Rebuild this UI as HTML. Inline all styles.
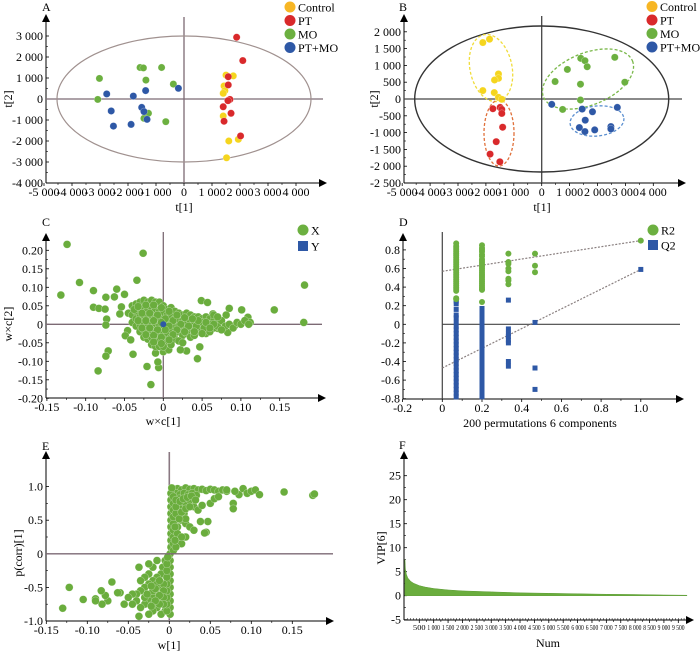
<!DOCTYPE html>
<html><head><meta charset="utf-8"><style>
html,body{margin:0;padding:0;background:#fff;}
svg{display:block;font-family:"Liberation Serif",serif;}
</style></head><body>
<svg id="fig" width="700" height="653" viewBox="0 0 700 653" xmlns="http://www.w3.org/2000/svg">
<defs>
<marker id="arr" markerWidth="8" markerHeight="8" refX="4" refY="4" orient="auto" markerUnits="userSpaceOnUse"><path d="M0,0 L8,4 L0,8 Z" fill="#000"/></marker>
</defs>
<g font-size="12">
<text x="42" y="11">A</text>
<text x="399" y="11">B</text>
<text x="42" y="226">C</text>
<text x="399" y="226">D</text>
<text x="42" y="450">E</text>
<text x="399" y="449">F</text>
</g>
<g font-size="12">
<text x="184" y="211" text-anchor="middle">t[1]</text>
<text transform="translate(12,99) rotate(-90)" text-anchor="middle">t[2]</text>
<text x="542" y="211" text-anchor="middle">t[1]</text>
<text transform="translate(378,99) rotate(-90)" text-anchor="middle">t[2]</text>
<text x="163" y="425" text-anchor="middle">w×c[1]</text>
<text transform="translate(12,324) rotate(-90)" text-anchor="middle">w×c[2]</text>
<text x="540" y="427" text-anchor="middle">200 permutations 6 components</text>
<text x="169" y="649" text-anchor="middle">w[1]</text>
<text transform="translate(22,553) rotate(-90)" text-anchor="middle">p(corr)[1]</text>
<text x="548" y="647" text-anchor="middle">Num</text>
<text transform="translate(385,548) rotate(-90)" text-anchor="middle">VIP[6]</text>
</g>
</svg>
<script>
// ---------- DATA ----------
const aControl = [[1500,1140],[1760,1100],[1430,620],[1460,400],[1400,270],[1400,-810],[1600,-2000],[1940,-1920],[1520,-2800]];
const aPT = [[1880,2940],[2100,1830],[1580,1060],[1580,670],[1640,-20],[1570,-80],[1400,-370],[1680,-680],[1430,-1060],[2020,-1760]];
const aMO = [[-3020,980],[-3080,-20],[-1570,1500],[-1450,1480],[-800,1500],[-1360,900],[-380,710],[-1270,-680],[-1430,-920],[-650,-1080]];
const aPTMO = [[-2760,240],[-1810,140],[-1370,400],[-200,510],[-2600,-570],[-1510,-400],[-1430,-600],[-1320,-970],[-2520,-1290],[-1890,-1210]];
const bControl = [[-2110,1680],[-1870,1780],[-1550,745],[-1550,615],[-1690,565],[-2110,250],[-1700,190],[-1550,50],[-1430,-10]];
const bPT = [[-1750,-290],[-1490,-250],[-1430,-310],[-1430,-430],[-1400,-840],[-1630,-1270],[-1850,-1640],[-1500,-1870]];
const bMO = [[480,520],[920,880],[1400,1210],[1550,1140],[1630,960],[1390,440],[1390,-30],[750,-310],[2620,1240],[2980,500]];
const bPTMO = [[360,-160],[1450,-300],[1820,-380],[2710,-250],[1560,-630],[1350,-850],[1550,-970],[1900,-920],[2480,-820],[2480,-890]];
const cX = [[-0.124,0.216],[-0.026,0.192],[-0.034,0.119],[-0.108,0.113],[-0.132,0.079],[-0.090,0.091],[-0.060,0.095],[-0.050,0.081],[-0.074,0.073],[-0.063,0.074],[-0.090,0.046],[-0.083,0.043],[-0.075,0.041],[-0.054,0.047],[-0.056,0.028],[-0.073,0.014],[-0.074,-0.002],[-0.046,-0.017],[-0.049,-0.031],[-0.042,-0.042],[-0.071,-0.072],[-0.074,-0.086],[-0.039,-0.081],[-0.084,-0.126],[-0.021,-0.114],[-0.016,-0.163],[-0.006,-0.117],[-0.007,-0.102],[-0.010,-0.078],[0,-0.074],[0.007,-0.069],[0.044,-0.093],[0.047,-0.061],[0.030,-0.072],[0.022,-0.069],[0.049,0.064],[0.057,0.059],[0.085,0.043],[0.101,0.039],[0.143,0.039],[0.182,0.106],[0.181,0.005],[0.109,0.019],[0.112,0.005],[0.092,-0.004],[0.083,-0.022],[0.070,-0.011],[0.081,0.025],[0.064,0.028],[0.074,0.007],
[-0.04,0.05],[-0.035,0.055],[-0.03,0.06],[-0.025,0.065],[-0.02,0.06],[-0.015,0.065],[-0.01,0.06],[-0.005,0.06],[0.0,0.05],[0.005,0.04],[0.01,0.045],[0.015,0.035],[0.02,0.03],[0.025,0.025],[0.03,0.03],[0.035,0.025],[0.04,0.02],[0.045,0.02],[0.05,0.015],[0.055,0.02],[0.06,0.015],[0.065,0.01],[0.07,0.005],
[-0.045,0.03],[-0.04,0.025],[-0.035,0.035],[-0.03,0.04],[-0.025,0.045],[-0.02,0.04],[-0.015,0.045],[-0.01,0.04],[-0.005,0.035],[0.0,0.03],[0.005,0.025],[0.01,0.02],[0.015,0.015],[0.02,0.01],[0.025,0.01],[0.03,0.005],[0.035,0.01],[0.04,0.005],[0.045,0.0],[0.05,0.005],[0.055,-0.005],[0.06,0.0],[0.065,-0.01],[0.07,-0.005],
[-0.04,0.005],[-0.035,0.015],[-0.03,0.02],[-0.025,0.025],[-0.02,0.02],[-0.015,0.025],[-0.01,0.02],[-0.005,0.015],[0.005,0.005],[0.01,0.0],[0.015,-0.005],[0.02,-0.005],[0.025,-0.01],[0.03,-0.01],[0.035,-0.015],[0.04,-0.01],[0.045,-0.02],[0.05,-0.015],[0.055,-0.025],[0.06,-0.02],
[-0.035,-0.005],[-0.03,0.0],[-0.025,0.005],[-0.02,0.0],[-0.015,0.005],[-0.01,0.0],[-0.005,-0.005],[0.005,-0.01],[0.01,-0.02],[0.015,-0.025],[0.02,-0.02],[0.025,-0.03],[0.03,-0.025],[0.035,-0.035],[0.04,-0.03],
[-0.03,-0.02],[-0.025,-0.015],[-0.02,-0.02],[-0.015,-0.015],[-0.01,-0.02],[-0.005,-0.025],[0.0,-0.02],[0.005,-0.03],[0.01,-0.035],[0.015,-0.04],[0.02,-0.045],[0.025,-0.05],
[-0.025,-0.035],[-0.02,-0.04],[-0.015,-0.035],[-0.01,-0.04],[-0.005,-0.045],[0.0,-0.04],[0.005,-0.05],[0.01,-0.055],
[-0.015,-0.055],[-0.01,-0.06],[-0.005,-0.06],[0.0,-0.06],
[0.075,0.01],[0.08,-0.005],[0.085,0.0],[0.09,-0.01],[0.095,0.005],[0.1,0.0],[0.105,0.01],[0.11,0.0],[0.075,-0.015],[0.065,0.025],[0.07,0.02],
[-0.0375,0.04],[-0.0275,0.03],[-0.0175,0.03],[-0.0075,0.025],[0.0025,0.015],[0.0125,0.01],[0.0225,0.0],[0.0325,-0.005],[0.0425,-0.005],[0.0525,-0.01],[-0.0325,0.01],[-0.0225,0.01],[-0.0125,0.01],[-0.0025,0.005],[0.0075,-0.005],[0.0175,-0.015],[0.0275,-0.02],[-0.0275,-0.01],[-0.0175,-0.01],[-0.0075,-0.015],[0.0025,-0.015],[0.0125,-0.028],[-0.0225,-0.028],[-0.0125,-0.03],[-0.0025,-0.035],[0.0075,-0.042],[-0.0125,-0.048],[-0.0025,-0.052],[0.045,0.01],[0.055,0.005],[0.065,0.0],[0.06,-0.01],[0.05,-0.025],[0.04,-0.02],[-0.0325,0.048],[-0.0225,0.052],[-0.0125,0.052],[-0.0025,0.045],[0.0075,0.035],[0.0175,0.025],[0.0275,0.018],[0.0375,0.015]];
const cY = [[0,0]];
const dPerm = [0.07,0.2,0.333,0.467,1.0];
const dR2_1 = [0.87,0.84,0.82,0.8,0.78,0.76,0.74,0.72,0.7,0.68,0.66,0.64,0.62,0.6,0.58,0.56,0.54,0.52,0.5,0.48,0.46,0.44,0.42,0.4,0.38,0.36,0.28,0.27];
const dR2_2 = [0.85,0.82,0.8,0.78,0.75,0.73,0.7,0.68,0.66,0.64,0.62,0.6,0.58,0.56,0.54,0.52,0.5,0.48,0.46,0.44,0.42,0.4,0.38,0.37,0.24];
const dR2_3 = [0.76,0.67,0.65,0.6,0.57,0.49,0.47,0.43];
const dR2_4 = [0.76,0.63,0.56];
const dR2_5 = [0.9];
const dQ2_1 = [0.27,0.25,0.22,0.16,0.1,0.07,0.02,-0.02,-0.06,-0.1,-0.14,-0.18,-0.22,-0.26,-0.3,-0.34,-0.38,-0.42,-0.46,-0.5,-0.54,-0.58,-0.62,-0.66,-0.7,-0.74,-0.78];
const dQ2_2 = [0.17,0.14,0.1,0.06,0.02,-0.02,-0.06,-0.1,-0.14,-0.18,-0.22,-0.26,-0.3,-0.34,-0.38,-0.42,-0.46,-0.5,-0.54,-0.58,-0.62,-0.66,-0.7,-0.74,-0.78];
const dQ2_3 = [0.26,-0.05,-0.1,-0.13,-0.17,-0.2,-0.4,-0.45];
const dQ2_4 = [0.02,-0.47,-0.7];
const dQ2_5 = [0.59];
const dR2Line = [0.57,0.9];
const dQ2Line = [-0.47,0.59];
const eX = [[0.005,0.95],[0.01,0.97],[0.015,0.95],[0.02,0.98],[0.025,0.96],[0.03,0.97],[0.035,0.95],[0.04,0.96],[0.045,0.94],[0.05,0.96],[0.055,0.95],[0.06,0.93],[0.065,0.95],[0.07,0.93],[0.008,0.9],[0.013,0.88],[0.018,0.9],[0.023,0.88],[0.028,0.9],[0.033,0.87],
[0.005,0.8],[0.01,0.75],[0.015,0.7],[0.02,0.75],[0.025,0.8],[0.03,0.7],[0.035,0.65],[0.01,0.6],[0.015,0.5],[0.02,0.45],[0.025,0.4],[0.03,0.35],[0.01,0.4],[0.005,0.3],[0.01,0.2],[0.015,0.15],[0.02,0.25],[0.045,0.32],[0.043,0.31],[0.047,0.48],[0.038,0.48],[0.04,0.72],[0.05,0.75],[0.055,0.82],[0.06,0.85],[0.078,0.75],[0.078,0.67],[0.085,0.88],[0.09,0.97],[0.095,0.9],[0.1,0.93],[0.105,0.95],[0.11,0.88],[0.14,0.92],[0.175,0.87],[0.177,0.89],[0.08,0.93],[0.07,0.95],[0.012,0.68],[0.018,0.6],[0.007,0.5],
[-0.005,-0.1],[-0.008,-0.2],[-0.01,-0.3],[-0.015,-0.35],[-0.02,-0.4],[-0.025,-0.45],[-0.03,-0.5],[-0.035,-0.55],[-0.04,-0.6],[-0.01,-0.5],[-0.015,-0.6],[-0.02,-0.65],[-0.025,-0.7],[-0.03,-0.75],[-0.035,-0.8],[-0.01,-0.7],[-0.015,-0.8],[-0.02,-0.85],[-0.025,-0.9],[-0.005,-0.85],[-0.01,-0.9],[-0.005,-0.6],[-0.02,-0.55],[-0.025,-0.3],[-0.03,-0.35],[-0.035,-0.4],[-0.037,-0.2],[-0.02,-0.2],[-0.045,-0.6],[-0.05,-0.65],[-0.055,-0.75],[-0.06,-0.58],[-0.063,-0.58],[-0.07,-0.42],[-0.075,-0.7],[-0.078,-0.62],[-0.083,-0.55],[-0.082,-0.75],[-0.09,-0.67],[-0.09,-0.7],[-0.105,-0.68],[-0.122,-0.5],[-0.13,-0.81],[-0.037,-0.93],[-0.025,-0.15],[-0.015,-0.1],[-0.03,-0.65],[-0.04,-0.7],[-0.045,-0.75],[-0.015,-0.45],[-0.02,-0.75],
[0.001,-0.9],[0.001,-0.8],[0.001,-0.7],[0.001,-0.6],[0.001,-0.5],[0.001,-0.4],[0.001,-0.3],[0.001,-0.2],[0.001,-0.1],[0.001,0.0],[0.002,0.1],[0.002,0.2],[0.002,0.3],[0.002,0.4],[0.002,0.5],[0.002,0.6],[0.002,0.7],[0.002,0.8],[0.002,0.9],[0.003,0.98],
[-0.003,-0.85],[-0.003,-0.75],[-0.003,-0.65],[-0.003,-0.55],[-0.003,-0.45],[-0.003,-0.35],[-0.003,-0.25],[-0.003,-0.15],[-0.002,-0.05],[0.005,0.05],[0.005,0.15],[0.005,0.25],[0.005,0.35],[0.005,0.45],[0.005,0.55],[0.005,0.65],[0.005,0.75],[0.005,0.85],[0.008,0.1],[0.008,0.6],[0.01,0.3],[0.012,0.82],[0.015,0.25],[0.02,0.52],
[-0.007,-0.45],[-0.007,-0.55],[-0.007,-0.65],[-0.007,-0.75],[-0.012,-0.62],[-0.012,-0.75],[-0.017,-0.7],[-0.022,-0.78],[-0.027,-0.6],[-0.017,-0.52],[-0.012,-0.4],[-0.022,-0.48],[0.008,0.7],[0.008,0.8],[0.013,0.78],[0.017,0.82],[0.022,0.84],[0.027,0.86],[0.032,0.8],[0.012,0.52],[0.015,0.62],[0.02,0.67],[0.025,0.7],[0.007,0.4],[0.007,0.2]];
const fNum = [0,20,50,100,200,300,500,700,1000,1500,2000,3000,4000,5000,6000,7000,8000,9000,9800];
const fVip = [7.5,5.5,4.5,3.7,3.0,2.6,2.1,1.8,1.5,1.2,1.0,0.8,0.6,0.5,0.4,0.3,0.25,0.15,0.1];

// ---------- SCALES ----------
const P = {
 a:{sx:v=>184+v*0.028, sy:v=>99-v*0.021, l:46,b:183,t:18,r:323},
 b:{sx:v=>541.7+v*0.0279, sy:v=>99-v*0.0336, l:404,b:183,t:18,r:682},
 c:{sx:v=>163.3+v*776, sy:v=>324.3-v*370, l:46,b:398,t:237,r:322},
 d:{sx:v=>442.3+v*198.5, sy:v=>324.3-v*93, l:403,b:399,t:237,r:680},
 e:{sx:v=>169.3+v*820, sy:v=>553.8-v*67.2, l:46,b:621,t:455,r:330},
 f:{sx:v=>404.9+v*0.02878, sy:v=>595.7-v*4.8, l:404,b:620,t:455,r:690}
};
const svg = document.getElementById('fig');
const NS = 'http://www.w3.org/2000/svg';
function mk(tag, attrs, parent){const e=document.createElementNS(NS,tag);for(const k in attrs)e.setAttribute(k,attrs[k]);(parent||svg).appendChild(e);return e;}
function fmt(v){const s=Math.abs(v);let str=s>=1000?String(Math.floor(s/1000))+' '+String(s%1000).padStart(3,'0'):String(s);return (v<0?'-':'')+str;}

function axes(key, xt, yt, xlab, ylab, fs){
 const p=P[key];
 const g=mk('g',{});
 
 
 const ya=mk('line',{x1:p.l,y1:p.b,x2:p.l,y2:p.t,stroke:'#000','stroke-width':1,'marker-end':'url(#arr)'},g);
 
 
 const xa=mk('line',{x1:p.l,y1:p.b,x2:p.r,y2:p.b,stroke:'#000','stroke-width':1,'marker-end':'url(#arr)'},g);
 
 
 xt.forEach((v,i)=>{const x=p.sx(v);
  mk('line',{x1:x,y1:p.b,x2:x,y2:p.b+3,stroke:'#000','stroke-width':0.8},g);
  const attrs={x:x,y:p.b+(fs<10?10:13),'text-anchor':'middle','font-size':fs||12};
  if(fs<10){attrs.textLength=12.5;attrs.lengthAdjust='spacingAndGlyphs';}
  const t=mk('text',attrs,g);
  t.textContent=xlab[i];
  
  
 });
 yt.forEach((v,i)=>{const y=p.sy(v);
  mk('line',{x1:p.l,y1:y,x2:p.l+3,y2:y,stroke:'#000','stroke-width':0.8},g);
  const t=mk('text',{x:p.l-3,y:y+4,'text-anchor':'end','font-size':12},g);
  t.textContent=ylab[i];
  
  
 });
 for(let i=0;i<yt.length-1;i++){const y=(p.sy(yt[i])+p.sy(yt[i+1]))/2;mk('line',{x1:p.l,y1:y,x2:p.l+2,y2:y,stroke:'#000','stroke-width':0.6},g);}
 for(let i=0;i<xt.length-1;i++){const x=(p.sx(xt[i])+p.sx(xt[i+1]))/2;mk('line',{x1:x,y1:p.b,x2:x,y2:p.b+2,stroke:'#000','stroke-width':0.6},g);}
}
function cross(key,x1,x2,y1,y2,col,w){const p=P[key];
 const v=mk('line',{x1:p.sx(0),x2:p.sx(0),y1:y1,y2:y2,stroke:col,'stroke-width':w});
 
 
 const h=mk('line',{x1:x1,x2:x2,y1:p.sy(0),y2:p.sy(0),stroke:col,'stroke-width':w});
 
 
}
function dots(key,pts,fill,r,name){const p=P[key];
 pts.forEach(d=>{const c=mk('circle',{cx:p.sx(d[0]),cy:p.sy(d[1]),r:r,fill:fill,stroke:'#fff','stroke-width':0.4,'stroke-opacity':0.6});
  
  
 });
}
function legend(items,x,y0,dy){items.forEach((it,i)=>{const y=y0+i*dy;
 let m;
 if(it[2]==='sq'){m=mk('rect',{x:x-5,y:y-5,width:10,height:10,fill:it[1]});}
 else{m=mk('circle',{cx:x,cy:y,r:5.5,fill:it[1]});}
 
 
 const t=mk('text',{x:x+8,y:y+4.5,'font-size':12});t.textContent=it[0];
 
 
});}
const YEL='#f5d51e', ORG='#f7b624', RED='#d9292b', GRN='#6cb040', BLU='#2e58a6';

// ----- Panel A -----
const kx=[-5000,-4000,-3000,-2000,-1000,0,1000,2000,3000,4000];
axes('a',kx,[-4000,-3000,-2000,-1000,0,1000,2000,3000],kx.map(fmt),[-4000,-3000,-2000,-1000,0,1000,2000,3000].map(fmt));
cross('a',46,323,17,183,'#7c6a74',1.3);
let el=mk('ellipse',{cx:P.a.sx(0),cy:P.a.sy(0),rx:127,ry:63,fill:'none',stroke:'#a0918f','stroke-width':1.2});


dots('a',aMO,GRN,3.6,'a-point-mo');dots('a',aPTMO,BLU,3.6,'a-point-pt-mo');dots('a',aControl,YEL,3.6,'a-point-control');dots('a',aPT,RED,3.6,'a-point-pt');
legend([['Control',ORG],['PT',RED],['MO',GRN],['PT+MO',BLU]],290,7,13.5);

// ----- Panel B -----
axes('b',kx,[-2500,-2000,-1500,-1000,-500,0,500,1000,1500,2000],kx.map(fmt),[-2500,-2000,-1500,-1000,-500,0,500,1000,1500,2000].map(fmt));
cross('b',404,682,16,183,'#444',1.3);
el=mk('ellipse',{cx:P.b.sx(0),cy:P.b.sy(0),rx:127,ry:73,fill:'none',stroke:'#333','stroke-width':1.4});


[['#f0dc3a',491,68,21,34,-12,'b-control-ellipse'],['#e0703a',499,133,15,33,0,'b-pt-ellipse'],['#7ab84a',588,79,48,26,-22,'b-mo-ellipse'],['#5b8fd0',597,121,27,15,-6,'b-ptmo-ellipse']].forEach(e=>{
 const q=mk('ellipse',{cx:e[1],cy:e[2],rx:e[3],ry:e[4],transform:`rotate(${e[5]} ${e[1]} ${e[2]})`,fill:'none',stroke:e[0],'stroke-width':1.3,'stroke-dasharray':'3,2'});
 
 
});
dots('b',bControl,YEL,3.6,'b-point-control');dots('b',bPT,RED,3.6,'b-point-pt');dots('b',bMO,GRN,3.6,'b-point-mo');dots('b',bPTMO,BLU,3.6,'b-point-pt-mo');
legend([['Control',ORG],['PT',RED],['MO',GRN],['PT+MO',BLU]],652,6.5,13.5);

// ----- Panel C -----
const cxT=[-0.15,-0.1,-0.05,0,0.05,0.1,0.15], cxL=['-0.15','-0.10','-0.05','0','0.05','0.10','0.15'];
const cyT=[-0.2,-0.15,-0.1,-0.05,0,0.05,0.1,0.15,0.2], cyL=['-0.20','-0.15','-0.10','-0.05','0','0.05','0.10','0.15','0.20'];
axes('c',cxT,cyT,cxL,cyL);
cross('c',46,322,232,398,'#7c6a74',1.3);
dots('c',cX,'#6aad3d',3.9,'c-point-x');
cY.forEach(d=>{const r=mk('circle',{cx:P.c.sx(d[0]),cy:P.c.sy(d[1]),r:3,fill:BLU});
 
 });
legend([['X',GRN],['Y',BLU,'sq']],303,230,16);

// ----- Panel D -----
axes('d',[-0.2,0,0.2,0.4,0.6,0.8,1.0],[-0.8,-0.6,-0.4,-0.2,0,0.2,0.4,0.6,0.8],['-0.2','0','0.2','0.4','0.6','0.8','1.0'],['-0.8','-0.6','-0.4','-0.2','0','0.2','0.4','0.6','0.8']);
el=mk('line',{x1:P.d.sx(0),x2:P.d.sx(0),y1:232,y2:399,stroke:'#444','stroke-width':1.2});

el=mk('line',{x1:P.d.sx(0),x2:680,y1:P.d.sy(0),y2:P.d.sy(0),stroke:'#444','stroke-width':1.2});

[[dR2Line,'d-r2-regression'],[dQ2Line,'d-q2-regression']].forEach(l=>{
 const q=mk('line',{x1:P.d.sx(0),y1:P.d.sy(l[0][0]),x2:P.d.sx(1),y2:P.d.sy(l[0][1]),stroke:'#8a8080','stroke-width':1.2,'stroke-dasharray':'2,1.5'});
 
 });
[dQ2_1,dQ2_2,dQ2_3,dQ2_4,dQ2_5].forEach((col,i)=>col.forEach(v=>{
 const q=mk('rect',{x:P.d.sx(dPerm[i])-2.5,y:P.d.sy(v)-2.5,width:5,height:5,fill:BLU});
 
 }));
[dR2_1,dR2_2,dR2_3,dR2_4,dR2_5].forEach((col,i)=>col.forEach(v=>{
 const q=mk('circle',{cx:P.d.sx(dPerm[i]),cy:P.d.sy(v),r:3,fill:GRN});
 
 }));
legend([['R2',GRN],['Q2',BLU,'sq']],653,230,15);

// ----- Panel E -----
axes('e',cxT,[-1,-0.5,0,0.5,1],cxL,['-1.0','-0.5','0','0.5','1.0']);
el=mk('line',{x1:P.e.sx(0),x2:P.e.sx(0),y1:452,y2:621,stroke:'#8a7882','stroke-width':1.6});

dots('e',eX,'#6aad3d',3.9,'e-point');
el=mk('line',{x1:46,x2:333,y1:P.e.sy(0),y2:P.e.sy(0),stroke:'#7c6a74','stroke-width':1.3});


// ----- Panel F -----
const fxT=[500,1000,1500,2000,2500,3000,3500,4000,4500,5000,5500,6000,6500,7000,7500,8000,8500,9000,9500];
axes('f',fxT,[-5,0,5,10,15,20,25],fxT.map(fmt),['-5','0','5','10','15','20','25'],7);
for(let n=100;n<=9800;n+=100){mk('line',{x1:P.f.sx(n),x2:P.f.sx(n),y1:620,y2:618,stroke:'#000','stroke-width':0.5});}
let d='M'+P.f.sx(fNum[0])+','+P.f.sy(0);
fNum.forEach((n,i)=>{d+=' L'+P.f.sx(n)+','+P.f.sy(fVip[i]);});
d+=' L'+P.f.sx(fNum[fNum.length-1])+','+P.f.sy(0)+' Z';
el=mk('path',{d:d,fill:'#6aad3d',stroke:'#5d9c35','stroke-width':0.5});


</script>
</body></html>
